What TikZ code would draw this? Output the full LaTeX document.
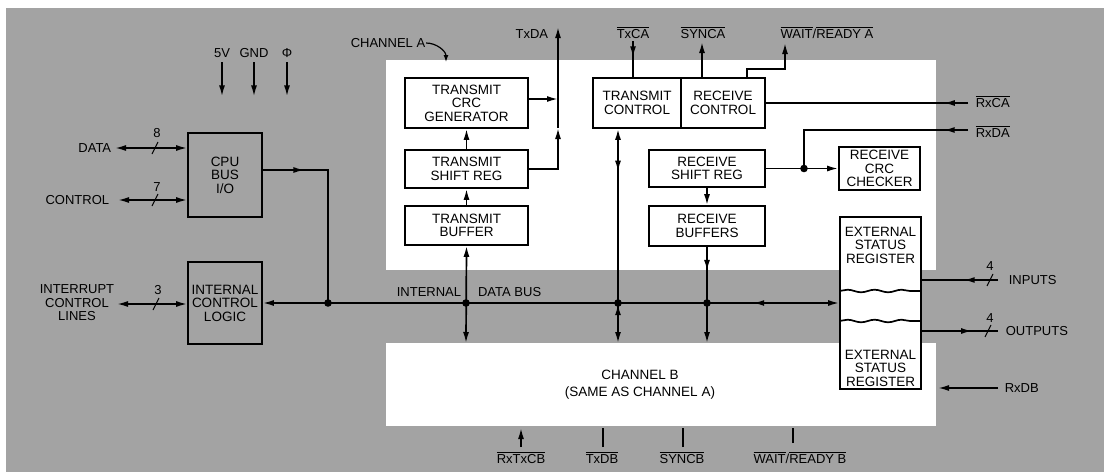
\documentclass[tikz,border=0pt]{standalone}
\usepackage{fontspec}
\setmainfont{Liberation Sans}
\usetikzlibrary{arrows.meta,decorations.markings,decorations.pathmorphing}
\newcommand{\ovl}[1]{$\overline{\mbox{#1}}$}
\tikzset{
  blk/.style={draw,fill=white,line width=1.7pt,align=center,inner sep=0pt,
    font=\fontsize{13.5}{13.5}\selectfont},
  lbl/.style={align=center,inner sep=0pt,font=\fontsize{13}{13.5}\selectfont},
  fwd/.style={postaction={decorate,decoration={markings,
    mark=at position #1 with {\arrow{Latex[length=11pt,width=6pt]}}}}},
  bwd/.style={postaction={decorate,decoration={markings,
    mark=at position #1 with {\arrow{Latex[length=11pt,width=6pt,reversed]}}}}}
}

\begin{document}
\begin{tikzpicture}[x=1pt,y=-1pt,>={Latex[length=11pt,width=6pt]},line width=1.7pt]
  \useasboundingbox (0,0) rectangle (1106,474);
  % background, channel A and channel B areas
  \fill[black!36] (6,8) rectangle (1104,472);
  \fill[white] (386,60) rectangle (936,270);
  \fill[white] (386,343) rectangle (936,426);

  % channel A blocks
  \node[blk,minimum width=123pt,minimum height=50pt] (crcgen) at (466.5,103)
    {TRANSMIT\\CRC\\GENERATOR};
  \node[blk,minimum width=123pt,minimum height=38pt] (txshift) at (466.5,169)
    {TRANSMIT\\SHIFT REG};
  \node[blk,minimum width=123pt,minimum height=39pt] (txbuf) at (466.5,225.5)
    {TRANSMIT\\BUFFER};
  \node[blk,minimum width=88pt,minimum height=50pt] (txctl) at (637,103)
    {TRANSMIT\\CONTROL};
  \node[blk,minimum width=84pt,minimum height=50pt] (rxctl) at (723,103)
    {RECEIVE\\CONTROL};
  \node[blk,minimum width=116pt,minimum height=37pt] (rxshift) at (707,168.5)
    {RECEIVE\\SHIFT REG};
  \node[blk,minimum width=116pt,minimum height=40pt] (rxbuf) at (707,226)
    {RECEIVE\\BUFFERS};
  \node[blk,minimum width=81pt,minimum height=43pt] (rxcrc) at (879.5,168.5)
    {RECEIVE\\CRC\\CHECKER};
  \node[blk,minimum width=81pt,minimum height=172pt] (extreg) at (880.5,303) {};
  \node[blk,draw=none,fill=none] (extA) at (880.5,245) {EXTERNAL\\STATUS\\REGISTER};
  \node[blk,draw=none,fill=none] (extB) at (880.5,368) {EXTERNAL\\STATUS\\REGISTER};
  \draw[decorate,decoration={snake,amplitude=1.3pt,segment length=27pt}]
    ([yshift=12pt]extreg.west) -- ([yshift=12pt]extreg.east);
  \draw[decorate,decoration={snake,amplitude=1.3pt,segment length=27pt}]
    ([yshift=-18pt]extreg.west) -- ([yshift=-18pt]extreg.east);

  % CPU side blocks
  \node[blk,fill=none,minimum width=74pt,minimum height=84pt] (cpubus) at (225,175)
    {CPU\\BUS\\I/O};
  \node[blk,fill=none,minimum width=74pt,minimum height=82pt] (intlog) at (225,303)
    {INTERNAL\\CONTROL\\LOGIC};

  % internal data bus
  \coordinate (j1) at (328,303);
  \coordinate (j2) at (466,303);
  \coordinate (j3) at (618,303);
  \coordinate (j4) at (707,303);
  \draw[<->,bwd=0.87] (intlog.east) -- (extreg.west);
  \node[lbl] (busl) at (469,292) {INTERNAL\hspace{17pt}DATA BUS};
  \fill (j1) circle (3.8pt);
  \fill (j2) circle (3.8pt);
  \fill (j3) circle (3.8pt);
  \fill (j4) circle (3.8pt);

  % transmit side
  \coordinate (txda) at (558,27);
  \coordinate (txdm) at (558,128);
  \coordinate (tbB) at (466,343);
  \draw[->] (txbuf.north) -- (txshift.south);
  \draw[->] (txshift.north) -- (crcgen.south);
  \draw[<->] (txbuf.south) -- (tbB);
  \draw[->] ([yshift=4pt]crcgen.east) -- ([yshift=4pt]crcgen.east -| txda);
  \draw[->] (txshift.east) -| (txdm);
  \draw[->] (txdm) -- (txda);
  \node[lbl,anchor=base east] (txdal) at (549,38) {TxDA};

  % transmit control
  \coordinate (tcB) at (618,343);
  \coordinate (txca) at (633,41);
  \coordinate (synca) at (702,42);
  \draw[<->,fwd=0.2,bwd=0.87] (txctl.south -| tcB) -- (tcB);
  \draw[fwd=0.45] (txca) -- (txca |- txctl.north);
  \draw[->] (synca |- txctl.north) -- (synca);
  \node[lbl,anchor=base] (txcal) at (633,38) {\ovl{TxCA}};
  \node[lbl,anchor=base] (syncal) at (703,38) {\ovl{SYNCA}};

  % receive side
  \coordinate (wra) at (785,43);
  \coordinate (rxca) at (968,103);
  \coordinate (rxda) at (968,130);
  \coordinate (rxdot) at (804,168.5);
  \coordinate (rbB) at (707,343);
  \draw[->] ([xshift=24pt]rxctl.north) -- ++(0,-8) -| (wra);
  \node[lbl,anchor=base] (wral) at (827,38) {\ovl{WAIT}/\ovl{READY A}};
  \draw[fwd=0.12] (rxca) -- (rxctl.east);
  \node[lbl,anchor=base west] (rxcal) at (975,107) {\ovl{RxCA}};
  \draw[fwd=0.12] (rxda) -| (rxdot);
  \node[lbl,anchor=base west] (rxdal) at (975,137) {\ovl{RxDA}};
  \draw[->] (rxshift.east) -- (rxcrc.west);
  \fill (rxdot) circle (3.8pt);
  \draw[->] (rxshift.south) -- (rxbuf.north);
  \draw[->,fwd=0.25] (rxbuf.south) -- (rbB);

  % CPU interface
  \coordinate (data) at (115,148);
  \coordinate (ctl) at (118,200);
  \coordinate (irq) at (117,304);
  \draw[fwd=0.21] ([yshift=5pt]cpubus.east) -| (j1);
  \draw[<->] (data) -- (data -| cpubus.west);
  \draw[line width=1pt] (152,154) -- (158,142);
  \node[lbl] (n8) at (157,133) {8};
  \node[lbl,anchor=east] (datal) at (112,148) {DATA};
  \draw[<->] (ctl) -- (ctl -| cpubus.west);
  \draw[line width=1pt] (152,206) -- (158,194);
  \node[lbl] (n7) at (157,187) {7};
  \node[lbl,anchor=east] (ctll) at (110,200) {CONTROL};
  \draw[<->] (irq) -- (irq -| intlog.west);
  \draw[line width=1pt] (153,310) -- (159,298);
  \node[lbl] (n3) at (158,290) {3};
  \node[lbl] (irql) at (77,303) {INTERRUPT\\CONTROL\\LINES};

  % power and clock
  \node[lbl] (v5) at (222,53) {5V};
  \node[lbl] (gnd) at (254,53) {GND};
  \node[lbl] (phi) at (287,53) {Φ};
  \draw[->] ([yshift=-4pt]v5.south) -- ++(0,34);
  \draw[->] ([yshift=-4pt]gnd.south) -- ++(0,34);
  \draw[->] ([yshift=-4pt]phi.south) -- ++(0,34);

  % external status register lines
  \coordinate (inp) at (998,280);
  \coordinate (outp) at (998,331);
  \coordinate (rxdb) at (998,388);
  \draw[fwd=0.45] (inp) -- (inp -| extreg.east);
  \draw[line width=1pt] (987,286) -- (993,274);
  \node[lbl] (n4a) at (990,266) {4};
  \node[lbl,anchor=west] (inpl) at (1008,280) {INPUTS};
  \draw[fwd=0.66] (outp -| extreg.east) -- (outp);
  \draw[line width=1pt] (985,337) -- (991,325);
  \node[lbl] (n4b) at (990,318) {4};
  \node[lbl,anchor=west] (outpl) at (1005,331) {OUTPUTS};
  \draw[->] (rxdb) -- ++(-60,0);
  \node[lbl,anchor=west] (rxdbl) at (1004,388) {RxDB};

  % channel B
  \node[lbl,font=\fontsize{13.5}{17}\selectfont] (chB) at (640,385)
    {CHANNEL B\\(SAME AS CHANNEL A)};
  \coordinate (rtcb) at (521,447);
  \coordinate (txdb) at (603,447);
  \coordinate (syncb) at (683,447);
  \coordinate (wrb) at (793,443);
  \draw[->] (rtcb) -- ++(0,-19);
  \draw (txdb) -- ++(0,-19);
  \draw (syncb) -- ++(0,-19);
  \draw (wrb) -- ++(0,-15);
  \node[lbl,anchor=base] (rtcbl) at (521,463) {\ovl{RxTxCB}};
  \node[lbl,anchor=base] (txdbl) at (602,463) {\ovl{TxDB}};
  \node[lbl,anchor=base] (syncbl) at (682,463) {\ovl{SYNCB}};
  \node[lbl,anchor=base] (wrbl) at (800,463) {\ovl{WAIT}/\ovl{READY B}};

  % channel A marker
  \node[lbl] (chA) at (388,43) {CHANNEL A};
  \draw[-{Latex[length=7pt,width=5pt]},line width=1.2pt] (chA.east) to[out=0,in=90] (446,62);
\end{tikzpicture}
\end{document}
